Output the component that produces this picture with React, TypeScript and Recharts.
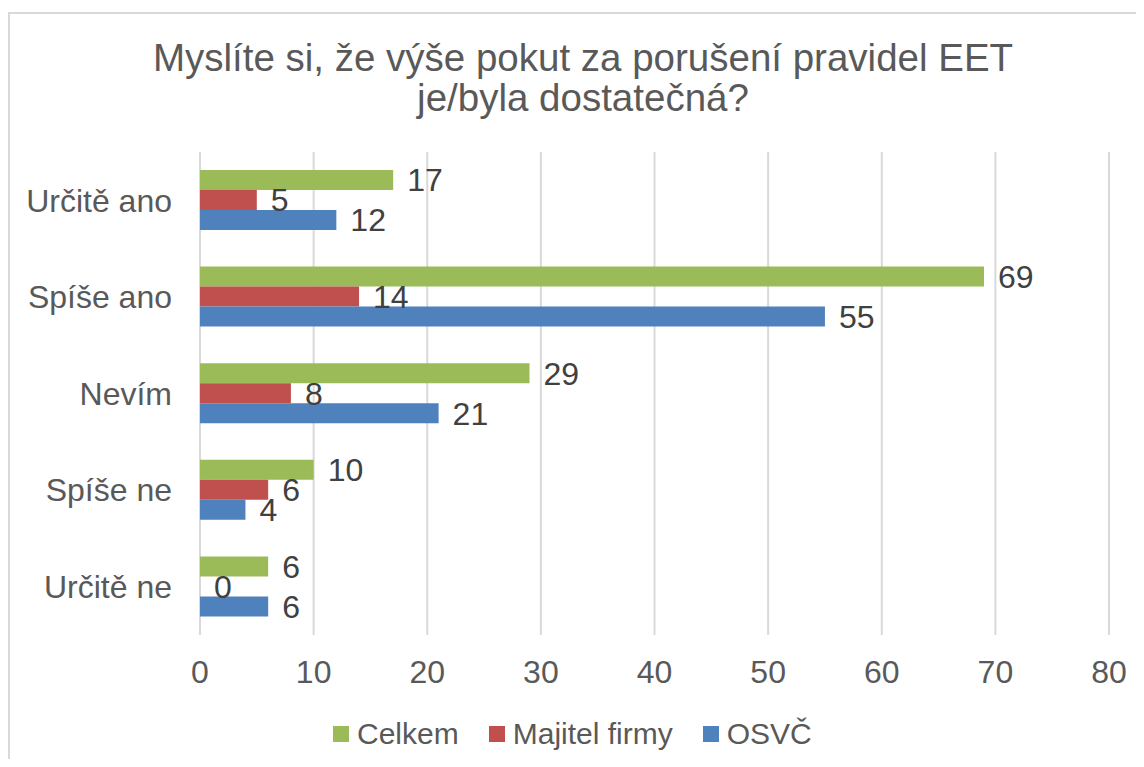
import { BarChart, Bar, XAxis, YAxis, CartesianGrid, LabelList } from "recharts";

const categories = ["Určitě ano", "Spíše ano", "Nevím", "Spíše ne", "Určitě ne"];
const celkem = [17, 69, 29, 10, 6];
const majitel = [5, 14, 8, 6, 0];
const osvc = [12, 55, 21, 4, 6];
const xTicks = [0, 10, 20, 30, 40, 50, 60, 70, 80];

const SERIES = [
  { key: "celkem", name: "Celkem", color: "#9BBB59" },
  { key: "majitel", name: "Majitel firmy", color: "#C0504D" },
  { key: "osvc", name: "OSVČ", color: "#4F81BD" },
];

const data = categories.map((name, i) => ({
  name,
  celkem: celkem[i],
  majitel: majitel[i],
  osvc: osvc[i],
}));

const FONT = '"Liberation Sans", Arial, sans-serif';

export default function App() {
  return (
    <div style={{ position: "relative", width: 1128, height: 751, overflow: "hidden", fontFamily: FONT }}>
      <div
        style={{
          position: "absolute",
          left: 0,
          top: 4,
          width: 1200,
          height: 800,
          border: "2px solid #d9d9d9",
          boxSizing: "border-box",
        }}
      />
      <div
        style={{
          position: "absolute",
          left: 0,
          top: 30,
          width: 1150,
          textAlign: "center",
          fontSize: 38.5,
          lineHeight: "40px",
          color: "#595959",
        }}
      >
        Myslíte si, že výše pokut za porušení pravidel EET
        <br />
        je/byla dostatečná?
      </div>
      <div style={{ position: "absolute", left: 0, top: 4 }}>
        <BarChart
          width={1128}
          height={747}
          data={data}
          layout="vertical"
          margin={{ top: 140, right: 27, left: 0, bottom: 64 }}
          barGap={0}
          barSize={20}
        >
          <CartesianGrid horizontal={false} stroke="#d9d9d9" strokeWidth={2} />
          <XAxis
            type="number"
            domain={[0, 80]}
            ticks={xTicks}
            axisLine={false}
            tickLine={false}
            tickMargin={19}
            height={60}
            tick={{ fontSize: 32, fill: "#595959", fontFamily: FONT }}
          />
          <YAxis
            type="category"
            dataKey="name"
            axisLine={false}
            tickLine={false}
            tickMargin={22}
            width={192}
            tick={{ fontSize: 32, fill: "#595959", fontFamily: FONT }}
          />
          {SERIES.map((s) => (
            <Bar
              key={s.key}
              dataKey={s.key}
              name={s.name}
              fill={s.color}
              minPointSize={0.01}
              isAnimationActive={false}
            >
              <LabelList
                dataKey={s.key}
                position="right"
                offset={14}
                style={{ fontSize: 32, fill: "#404040", fontFamily: FONT }}
              />
            </Bar>
          ))}
        </BarChart>
      </div>
      <div
        style={{
          position: "absolute",
          left: 325,
          top: 709,
          display: "flex",
          alignItems: "center",
          fontSize: 30,
          color: "#595959",
          lineHeight: "34px",
        }}
      >
        {SERIES.map((s) => (
          <div key={s.key} style={{ display: "flex", alignItems: "center", marginRight: 30 }}>
            <div style={{ width: 16, height: 16, background: s.color, marginRight: 8 }} />
            <span>{s.name}</span>
          </div>
        ))}
      </div>
    </div>
  );
}
